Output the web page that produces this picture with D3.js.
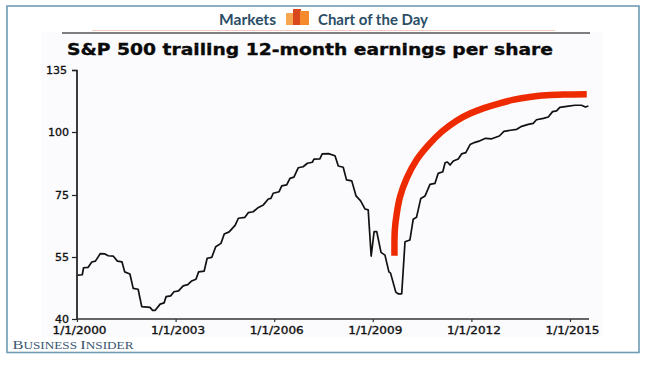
<!DOCTYPE html>
<html><head><meta charset="utf-8">
<script src="https://cdn.jsdelivr.net/npm/d3@7"></script>
<style>html,body{margin:0;padding:0;background:#fff}svg{display:block}text{font-family:"DejaVu Sans",sans-serif}</style>
</head><body>
<svg id="c" width="647" height="365"></svg>
<script>
const chartTitle = "S&P 500 trailing 12-month earnings per share";
const yTicks = [40, 55, 75, 100, 135];
const xTickYears = [2000, 2003, 2006, 2009, 2012, 2015];
const xTickLabels = ["1/1/2000", "1/1/2003", "1/1/2006", "1/1/2009", "1/1/2012", "1/1/2015"];
const epsYears = [2000.02,2000.16,2000.20,2000.34,2000.45,2000.56,2000.71,2000.85,2000.95,2001.10,2001.23,2001.37,2001.45,2001.61,2001.71,2001.86,2001.97,2002.22,2002.30,2002.38,2002.53,2002.65,2002.71,2002.85,2002.95,2003.09,2003.23,2003.37,2003.49,2003.62,2003.70,2003.87,2003.96,2004.10,2004.22,2004.38,2004.48,2004.63,2004.81,2004.91,2005.11,2005.21,2005.36,2005.52,2005.67,2005.82,2005.90,2005.97,2006.15,2006.23,2006.38,2006.48,2006.60,2006.73,2006.88,2007.01,2007.16,2007.21,2007.39,2007.46,2007.65,2007.85,2007.95,2008.10,2008.20,2008.36,2008.49,2008.63,2008.76,2008.86,2008.95,2009.04,2009.12,2009.25,2009.37,2009.49,2009.54,2009.70,2009.77,2009.88,2009.98,2010.13,2010.23,2010.33,2010.46,2010.59,2010.74,2010.89,2010.99,2011.13,2011.20,2011.27,2011.35,2011.45,2011.60,2011.70,2011.83,2011.96,2012.11,2012.26,2012.43,2012.62,2012.85,2012.99,2013.19,2013.38,2013.53,2013.73,2013.88,2013.98,2014.19,2014.34,2014.47,2014.59,2014.69,2014.90,2015.15,2015.35,2015.47,2015.56];
const epsValues = [50.6,50.7,52.4,52.5,53.8,54.0,56.1,56.0,55.4,55.3,54.0,53.8,51.4,50.9,47.4,47.2,43.0,42.8,42.1,42.1,43.6,43.9,45.4,45.6,46.6,46.8,48.0,48.3,49.2,49.6,51.4,51.6,54.7,54.9,58.3,59.4,62.4,63.1,65.2,67.5,67.8,69.3,69.6,71.0,71.8,73.7,73.9,75.7,76.3,78.6,79.0,81.6,82.1,85.8,86.2,87.6,88.0,89.2,89.3,91.3,91.4,90.6,86.5,86.0,81.0,80.6,74.7,73.1,70.5,70.2,55.3,63.2,63.2,56.5,55.6,51.4,51.1,46.5,46.1,46.1,59.9,60.5,67.2,67.8,73.9,74.7,79.2,79.6,83.6,84.2,87.8,88.1,86.9,88.5,89.3,91.3,91.8,95.0,95.9,96.5,97.5,97.3,98.4,100.4,101.0,101.5,103.2,104.3,104.9,106.9,107.7,108.5,111.5,111.9,113.9,114.5,115.1,115.1,114.1,114.7];
const arcYears = [2009.66,2009.67,2009.73,2009.83,2010.03,2010.33,2010.69,2011.10,2011.55,2011.96,2012.38,2012.78,2013.26,2013.78,2014.29,2014.79,2015.51];
const arcValues = [55.4,63.7,69.1,74.5,81.6,88.9,94.8,100.2,106.4,110.4,113.5,115.8,118.1,119.8,120.7,121.1,121.3];

const svg = d3.select("#c");
// frame and backdrop
svg.append("rect").attr("x",7).attr("y",6).attr("width",632).attr("height",346.5).attr("fill","#fff").attr("stroke","#6f9bb3").attr("stroke-width",1.6);
svg.append("rect").attr("x",41).attr("y",32).attr("width",562).attr("height",305).attr("fill","#fbfafc");

// header
const headFont = t => t.attr("fill","#2b4d66").style("font-family","Lato").style("font-weight",700).style("font-size","14.5px").attr("lengthAdjust","spacingAndGlyphs");
svg.append("text").attr("x",219).attr("y",24.5).attr("textLength",57).call(headFont).text("Markets");
svg.append("text").attr("x",318).attr("y",24.5).attr("textLength",110).call(headFont).text("Chart of the Day");
const icon = [[286,13,9,12,"#f7a650"],[293,9,8,16,"#d9481c"],[300,11,9,14,"#f58a2c"]];
svg.selectAll("rect.icon").data(icon).join("rect").attr("class","icon").attr("x",d=>d[0]).attr("y",d=>d[1]).attr("width",d=>d[2]).attr("height",d=>d[3]).attr("fill",d=>d[4]);
svg.append("line").attr("x1",92).attr("x2",555).attr("y1",30.5).attr("y2",30.5).attr("stroke","#f6c9bf").attr("stroke-width",1);
svg.append("line").attr("x1",62).attr("x2",590).attr("y1",33).attr("y2",33).attr("stroke","#555").attr("stroke-width",1.6);

// title
svg.append("text").attr("x",67).attr("y",55).attr("fill","#0a0a0a").attr("stroke","#0a0a0a").attr("stroke-width",0.35).style("font-weight",700).style("font-size","16.5px").attr("textLength",486).attr("lengthAdjust","spacingAndGlyphs").text(chartTitle);

// scales: the value axis is evenly spaced per tick, not proportional
const x = d3.scaleLinear().domain([2000,2015]).range([77,570]);
const y = d3.scaleLinear().domain(yTicks).range([319,257,195,132,70]);

const yAxis = d3.axisLeft(y).tickValues(yTicks).tickSize(5).tickPadding(3).tickFormat(d3.format("d"));
const gy = svg.append("g").attr("transform","translate(77,0)").call(yAxis);
gy.select(".domain").attr("stroke","#1a1a1a").attr("stroke-width",1.7).attr("d","M-5,70.5H0V319");
gy.selectAll(".tick line").attr("stroke","#222").attr("stroke-width",1.2);
gy.selectAll("text").attr("fill","#111").style("font-family","DejaVu Sans").style("font-size","11px").attr("stroke","#111").attr("stroke-width",0.35).attr("dx",d=>d===135?-2:0);

const xAxis = d3.axisBottom(x).tickValues(xTickYears).tickSize(3).tickPadding(4).tickFormat((d,i)=>xTickLabels[i]);
const gx = svg.append("g").attr("transform","translate(0,319)").call(xAxis);
gx.select(".domain").attr("stroke","#333").attr("stroke-width",1.6).attr("d","M77,0H589");
gx.selectAll(".tick line").attr("stroke","#333").attr("stroke-width",1.2);
gx.selectAll("text").attr("fill","#111").style("font-family","DejaVu Sans").style("font-size","11px").attr("stroke","#111").attr("stroke-width",0.35).attr("dx",2).attr("textLength",54).attr("lengthAdjust","spacingAndGlyphs");

// series
const line = d3.line().x(d=>x(d[0])).y(d=>y(d[1]));
svg.append("path").datum(d3.zip(epsYears,epsValues)).attr("fill","none").attr("stroke","#111").attr("stroke-width",1.7).attr("stroke-linejoin","round").attr("d",line);
const arc = d3.line().x(d=>x(d[0])).y(d=>y(d[1])).curve(d3.curveCatmullRom.alpha(0.5));
svg.append("path").datum(d3.zip(arcYears,arcValues)).attr("fill","none").attr("stroke","#ee2a00").attr("stroke-width",6.5).attr("d",arc);

// brand
const brand = svg.append("text").attr("x",12.5).attr("y",348.5).attr("fill","#3a5672").style("font-family","Liberation Serif").style("font-size","12.5px").attr("textLength",121).attr("lengthAdjust","spacingAndGlyphs");
brand.append("tspan").text("B");
brand.append("tspan").style("font-size","10px").text("USINESS ");
brand.append("tspan").text("I");
brand.append("tspan").style("font-size","10px").text("NSIDER");
</script>
</body></html>
